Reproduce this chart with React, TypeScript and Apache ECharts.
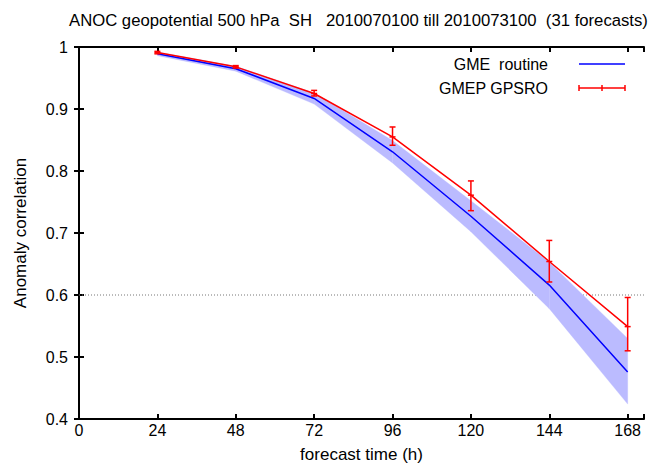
import React, { useEffect, useRef } from "react";
import * as echarts from "echarts";

const hours = [24, 48, 72, 96, 120, 144, 168];
const gmeRoutine = [0.989, 0.965, 0.917, 0.831, 0.727, 0.616, 0.476];
const gmeLow = [0.986, 0.961, 0.908, 0.813, 0.702, 0.578, 0.424];
const gmeHigh = [0.992, 0.969, 0.926, 0.849, 0.752, 0.653, 0.53];
const gmepGpsro = [0.991, 0.968, 0.925, 0.855, 0.761, 0.654, 0.549];
const gmepLow = [0.989, 0.966, 0.921, 0.8415, 0.736, 0.621, 0.51];
const gmepHigh = [0.993, 0.97, 0.93, 0.871, 0.784, 0.688, 0.596];
const xTicks = [0, 24, 48, 72, 96, 120, 144, 168];
const refLevel = 0.6;

const FONT = "'Liberation Sans', Arial, Helvetica, sans-serif";
const FS = 16;
const FS_TITLE = 16.7;
const FS_NAME = 17;

export default function App() {
  const ref = useRef<HTMLDivElement>(null);
  useEffect(() => {
    if (!ref.current) return;
    const chart = echarts.init(ref.current, null, { renderer: "svg" });

    const bandData = hours.slice(0, -1).map((h, i) => [
      h, gmeLow[i], gmeHigh[i], hours[i + 1], gmeLow[i + 1], gmeHigh[i + 1],
    ]);
    const errData = hours.map((h, i) => [h, gmepLow[i], gmepHigh[i], gmepGpsro[i]]);

    const axisCommon = {
      type: "value" as const,
      axisLine: { show: true, lineStyle: { color: "#000", width: 2 } },
      axisTick: { show: true, inside: true, length: 5, lineStyle: { color: "#000", width: 2 } },
      splitLine: { show: false },
    };

    chart.setOption({
      animation: false,
      backgroundColor: "#fff",
      textStyle: { fontFamily: FONT },
      title: {
        text: "ANOC geopotential 500 hPa  SH   2010070100 till 2010073100  (31 forecasts)",
        left: 69,
        top: 12,
        padding: 0,
        textStyle: { fontFamily: FONT, fontSize: FS_TITLE, fontWeight: "normal", color: "#000" },
      },
      grid: { left: 79, right: 12, top: 47, bottom: 45, outerBoundsMode: "none", containLabel: false },
      xAxis: [
        {
          ...axisCommon,
          min: 0,
          max: 173,
          interval: 24,
          position: "bottom",
          name: "forecast time (h)",
          nameLocation: "middle",
          nameGap: 27,
          nameTextStyle: { fontFamily: FONT, fontSize: FS_NAME, color: "#000" },
          axisLabel: {
            fontFamily: FONT,
            fontSize: FS,
            color: "#000",
            margin: 3,
            showMaxLabel: true,
            formatter: (v: number) => (xTicks.includes(v) ? String(v) : ""),
          },
        },
        {
          ...axisCommon,
          min: 0,
          max: 173,
          interval: 24,
          position: "top",
          axisLabel: { show: false },
        },
      ],
      yAxis: [
        {
          ...axisCommon,
          min: 0.4,
          max: 1,
          interval: 0.1,
          position: "left",
          name: "Anomaly correlation",
          nameLocation: "middle",
          nameRotate: 90,
          nameGap: 50,
          nameTextStyle: { fontFamily: FONT, fontSize: FS_NAME, color: "#000" },
          axisLabel: {
            fontFamily: FONT,
            fontSize: FS,
            color: "#000",
            margin: 11,
            formatter: (v: number) => String(Math.round(v * 10) / 10),
          },
        },
        {
          ...axisCommon,
          min: 0.4,
          max: 1,
          interval: 0.1,
          position: "right",
          axisLabel: { show: false },
        },
      ],
      series: [
        {
          type: "line",
          name: "ref",
          data: [[0, refLevel], [173, refLevel]],
          symbol: "none",
          lineStyle: { color: "#777", width: 1, type: [1, 2] },
          z: 1,
          silent: true,
        },
        {
          type: "custom",
          name: "band",
          data: bandData,
          encode: { x: [0, 3], y: [1, 2, 4, 5] },
          z: 2,
          renderItem: (params: any, api: any) => {
            const a = api.coord([api.value(0), api.value(1)]);
            const b = api.coord([api.value(0), api.value(2)]);
            const c = api.coord([api.value(3), api.value(5)]);
            const d = api.coord([api.value(3), api.value(4)]);
            return {
              type: "polygon",
              shape: { points: [a, b, c, d] },
              style: { fill: "#bbbbff", stroke: "#bbbbff", lineWidth: 0.3 },
            };
          },
        },
        {
          type: "line",
          name: "GME  routine",
          data: hours.map((h, i) => [h, gmeRoutine[i]]),
          symbol: "none",
          lineStyle: { color: "#0000ff", width: 1.5 },
          z: 3,
        },
        {
          type: "line",
          name: "GMEP GPSRO",
          data: hours.map((h, i) => [h, gmepGpsro[i]]),
          symbol: "none",
          lineStyle: { color: "#ff0000", width: 1.5 },
          z: 4,
        },
        {
          type: "custom",
          name: "GMEP GPSRO errors",
          data: errData,
          encode: { x: 0, y: [1, 2, 3] },
          z: 5,
          renderItem: (params: any, api: any) => {
            const x = api.value(0);
            const lo = api.coord([x, api.value(1)]);
            const hi = api.coord([x, api.value(2)]);
            const mid = api.coord([x, api.value(3)]);
            const w = 3;
            const st = { stroke: "#ff0000", lineWidth: 1.5 };
            return {
              type: "group",
              children: [
                { type: "line", shape: { x1: lo[0], y1: lo[1], x2: hi[0], y2: hi[1] }, style: st },
                { type: "line", shape: { x1: lo[0] - w, y1: lo[1], x2: lo[0] + w, y2: lo[1] }, style: st },
                { type: "line", shape: { x1: hi[0] - w, y1: hi[1], x2: hi[0] + w, y2: hi[1] }, style: st },
                { type: "line", shape: { x1: mid[0] - w, y1: mid[1], x2: mid[0] + w, y2: mid[1] }, style: st },
              ],
            };
          },
        },
      ],
      graphic: [
        {
          type: "text",
          x: 548,
          y: 64,
          style: {
            text: "GME  routine",
            fontFamily: FONT,
            fontSize: FS,
            fill: "#000",
            align: "right",
            verticalAlign: "middle",
          },
        },
        {
          type: "line",
          shape: { x1: 579, y1: 64, x2: 625, y2: 64 },
          style: { stroke: "#0000ff", lineWidth: 1.5 },
        },
        {
          type: "text",
          x: 548,
          y: 88,
          style: {
            text: "GMEP GPSRO",
            fontFamily: FONT,
            fontSize: FS,
            fill: "#000",
            align: "right",
            verticalAlign: "middle",
          },
        },
        {
          type: "group",
          children: [
            { type: "line", shape: { x1: 579, y1: 88, x2: 625, y2: 88 }, style: { stroke: "#ff0000", lineWidth: 1.5 } },
            { type: "line", shape: { x1: 579, y1: 85, x2: 579, y2: 91 }, style: { stroke: "#ff0000", lineWidth: 1.5 } },
            { type: "line", shape: { x1: 602, y1: 85, x2: 602, y2: 91 }, style: { stroke: "#ff0000", lineWidth: 1.5 } },
            { type: "line", shape: { x1: 625, y1: 85, x2: 625, y2: 91 }, style: { stroke: "#ff0000", lineWidth: 1.5 } },
          ],
        },
      ],
    });
    return () => chart.dispose();
  }, []);
  return <div ref={ref} style={{ width: 656, height: 464, position: "absolute", left: 0, top: 0 }} />;
}
